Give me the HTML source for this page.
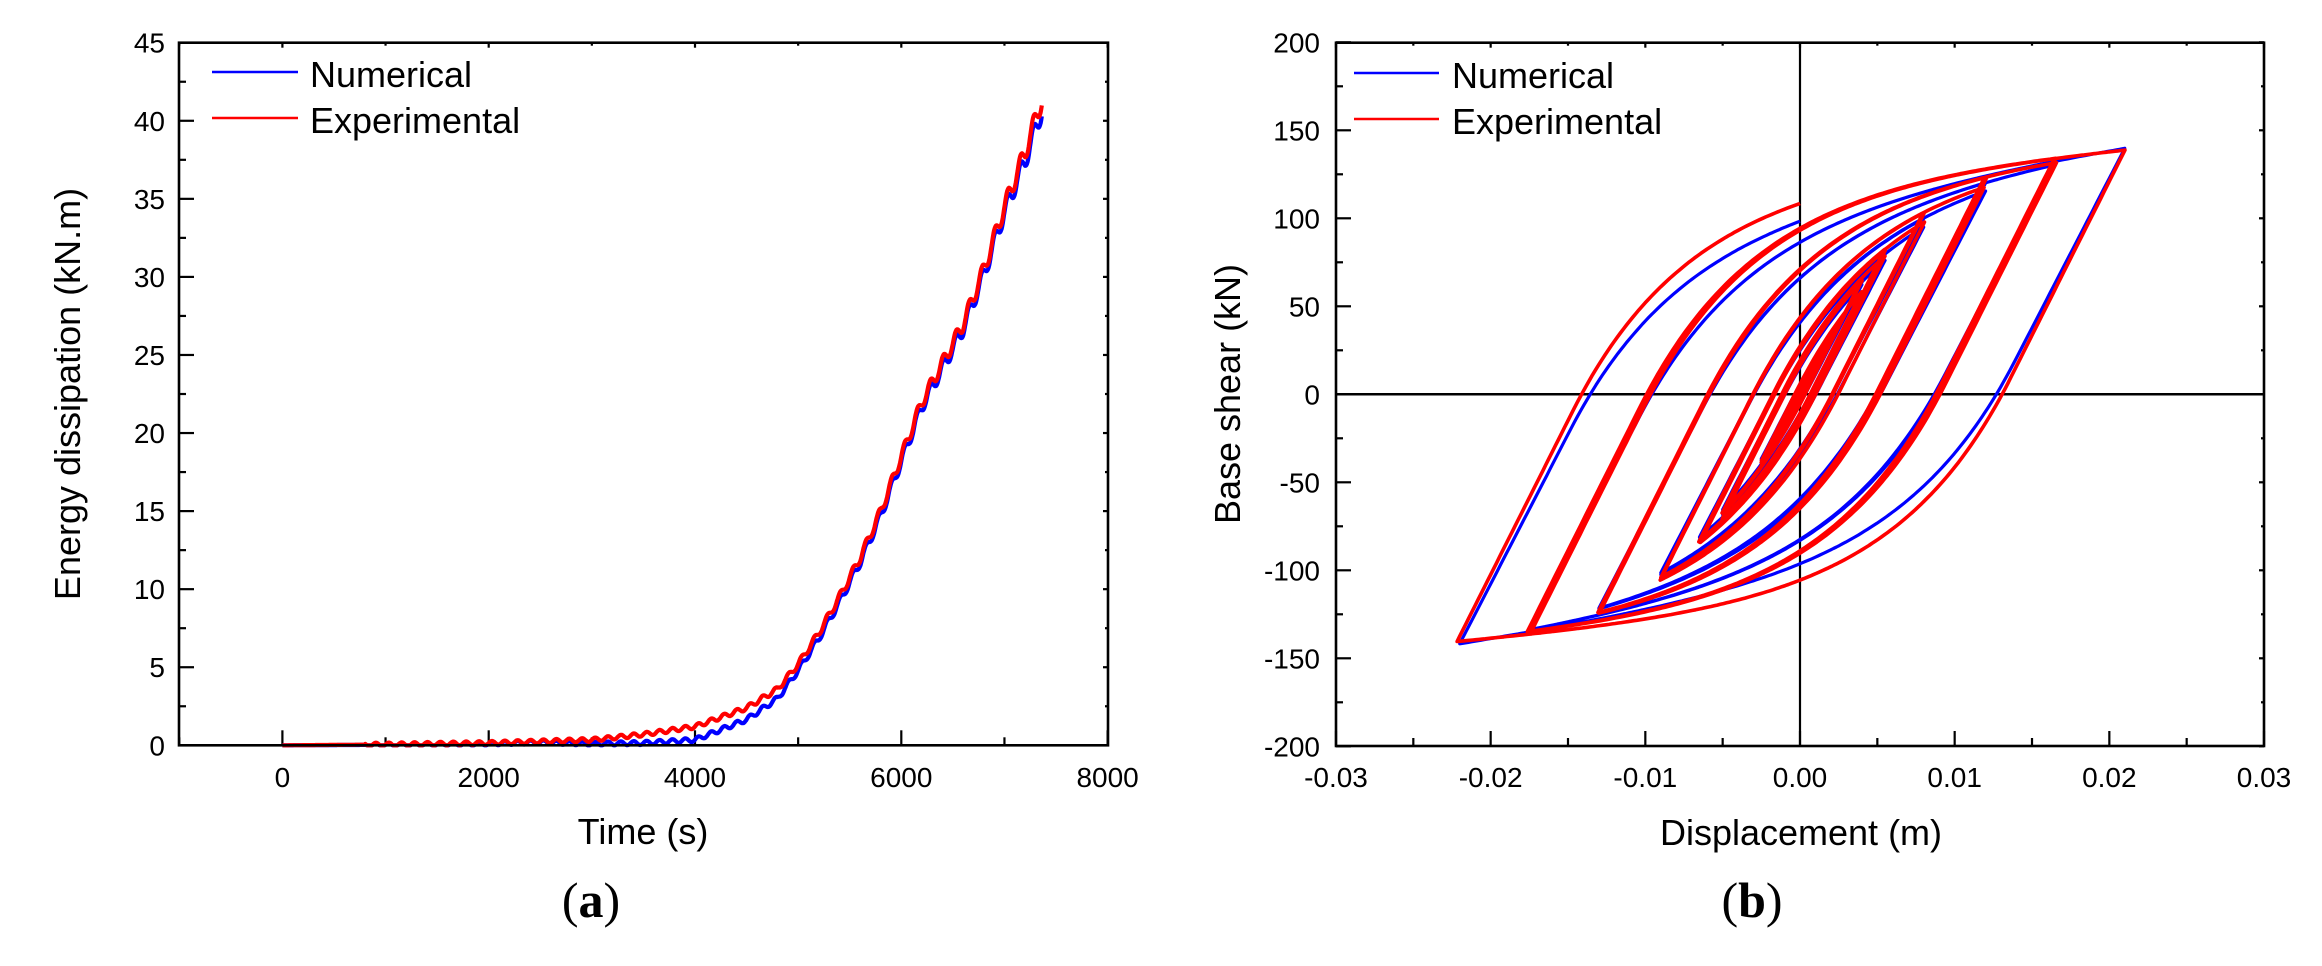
<!DOCTYPE html>
<html><head><meta charset="utf-8"><style>
html,body{margin:0;padding:0;background:#fff;}
svg{display:block;}
text{font-family:"Liberation Sans",Arial,sans-serif;fill:#000;}
.t{font-size:28px;}
.l{font-size:36px;}
.c{font-family:"Liberation Serif","Times New Roman",serif;font-size:50px;}
</style></head><body>
<svg id="s" width="2322" height="966" viewBox="0 0 2322 966" xmlns="http://www.w3.org/2000/svg">
<g id="ticks" stroke="#000" stroke-width="2.2" fill="none"></g>
<path id="eb" fill="none" stroke="#0000ff" stroke-width="4.2" stroke-linejoin="round"/>
<path id="er" fill="none" stroke="#ff0000" stroke-width="4.2" stroke-linejoin="round"/>
<line x1="1800" y1="43" x2="1800" y2="746" stroke="#000" stroke-width="2.2"/>
<line x1="1336" y1="394.3" x2="2264" y2="394.3" stroke="#000" stroke-width="2.5"/>
<path id="hb" fill="none" stroke="#0000ff" stroke-width="3.2" stroke-linejoin="round"/>
<path id="hr" fill="none" stroke="#ff0000" stroke-width="3.6" stroke-linejoin="round"/>
<rect x="179" y="42.7" width="929" height="702.6" fill="none" stroke="#000" stroke-width="2.6"/>
<rect x="1336" y="42.7" width="928" height="703.3" fill="none" stroke="#000" stroke-width="2.6"/>
<line x1="212" y1="72" x2="298" y2="72" stroke="#0000ff" stroke-width="2.6"/>
<line x1="212" y1="118" x2="298" y2="118" stroke="#ff0000" stroke-width="2.6"/>
<text class="l" x="310" y="87">Numerical</text>
<text class="l" x="310" y="133">Experimental</text>
<line x1="1354" y1="73" x2="1439" y2="73" stroke="#0000ff" stroke-width="2.6"/>
<line x1="1354" y1="119" x2="1439" y2="119" stroke="#ff0000" stroke-width="2.6"/>
<text class="l" x="1452" y="88">Numerical</text>
<text class="l" x="1452" y="134">Experimental</text>
<g id="labels"></g>
<text class="l" x="643" y="844" text-anchor="middle">Time (s)</text>
<text class="l" x="1801" y="845" text-anchor="middle">Displacement (m)</text>
<text class="l" transform="translate(80,394) rotate(-90)" text-anchor="middle">Energy dissipation (kN.m)</text>
<text class="l" transform="translate(1240,394) rotate(-90)" text-anchor="middle">Base shear (kN)</text>
<text class="c" x="591" y="917" text-anchor="middle">(<tspan font-weight="bold">a</tspan>)</text>
<text class="c" x="1752" y="917" text-anchor="middle">(<tspan font-weight="bold">b</tspan>)</text>
</svg>
<script>
(function(){
var NS="http://www.w3.org/2000/svg";
var tg=document.getElementById('ticks'), lg=document.getElementById('labels');
function ln(x1,y1,x2,y2){var e=document.createElementNS(NS,'line');e.setAttribute('x1',x1);e.setAttribute('y1',y1);e.setAttribute('x2',x2);e.setAttribute('y2',y2);tg.appendChild(e);}
function tx(s,x,y,a){var e=document.createElementNS(NS,'text');e.setAttribute('class','t');e.setAttribute('x',x);e.setAttribute('y',y);e.setAttribute('text-anchor',a);e.textContent=s;lg.appendChild(e);}
var L0=179,R0=1108,T=42.7,B=745.3;
function lx(t){return 282.4+t*0.10315;}
function ly(v){return 745.3-v*15.613;}
for(var t=-1000;t<=8000;t+=1000){var x=lx(t);var maj=(t%2000===0);
 ln(x,B,x,B-(maj?15:8)); ln(x,T,x,T+(maj?5:3));
 if(maj) tx(String(t),x,787,'middle');}
for(var v=0;v<=45;v+=2.5){var y=ly(v);var maj=(v%5===0);
 ln(L0,y,L0+(maj?15:7),y); ln(R0,y,R0-(maj?5:3),y);
 if(maj) tx(String(v),165,y+10,'end');}
function hx(d){return 1800+d*15467;}
function hy(f){return 394.3-f*1.76;}
for(var i=-6;i<=6;i++){var d=i*0.005,x=hx(d);var maj=(i%2===0);
 ln(x,746,x,746-(maj?15:8)); ln(x,42.7,x,42.7+(maj?5:3));
 if(maj) tx((d<0?'-':'')+Math.abs(d).toFixed(2),x,787,'middle');}
for(var f=-200;f<=200;f+=25){var y=hy(f);var maj=(f%50===0);
 ln(1336,y,1336+(maj?15:7),y); ln(2264,y,2264-(maj?5:3),y);
 if(maj) tx(String(f),1320,y+10,'end');}
var K=[[0,0],[1000,0.05],[2000,0.15],[3000,0.35],[3500,0.7],[4000,1.2],[4500,2.4],[4800,3.6],[5000,5.2],[5200,7.2],[5400,9.5],[5600,12],[5800,15],[6000,18.5],[6200,22],[6400,24.5],[6600,27],[6800,30.5],[7000,34.5],[7200,38],[7364,41.4]];
var D=[[0,0],[2500,0.05],[3000,0.25],[3500,0.55],[4000,0.85],[4500,0.75],[4800,0.6],[5000,0.4],[5500,0.3],[6000,0.3],[7000,0.35],[7364,0.7]];
function interp(A,t){for(var i=1;i<A.length;i++){if(t<=A[i][0]){var a=A[i-1],b=A[i];return a[1]+(b[1]-a[1])*(t-a[0])/(b[0]-a[0]);}}return A[A.length-1][1];}
var pr='',pb='';
for(var t=0;t<=7364;t+=6){var e=interp(K,t);var amp=(t<800?0:0.12+0.012*e);
 var r=e+amp*Math.sin(2*Math.PI*t/125);
 var b=Math.max(0,r-interp(D,t));r=Math.max(0,r);
 pr+=(t?'L':'M')+lx(t).toFixed(1)+' '+ly(r).toFixed(1);
 pb+=(t?'L':'M')+lx(t).toFixed(1)+' '+ly(b).toFixed(1);}
document.getElementById('er').setAttribute('d',pr);
document.getElementById('eb').setAttribute('d',pb);
var amps=[[0.002,-0.0025],[0.004,-0.005],[0.0055,-0.0065],[0.008,-0.009],[0.012,-0.013],[0.0165,-0.0175],[0.021,-0.022]];
var reps=[3,3,3,3,3,3,1];
var hist=[0];
amps.forEach(function(a,i){for(var r=0;r<reps[i];r++){hist.push(a[0]);hist.push(a[1]);}});
hist.push(0);
function sim(k,al,zm,jit){var x=0,z=0,p;var step=0.00002;var cnt=0;
 function F(){return al*k*x+(1-al)*k*z;}
 p='M'+hx(0).toFixed(1)+' '+hy(0).toFixed(1);
 for(var h=1;h<hist.length;h++){var tgt=hist[h]*(1+jit*Math.sin(h*1.7));var dir=tgt>x?1:-1;
  while((tgt-x)*dir>0){var dx=Math.min(step,Math.abs(tgt-x))*dir;
   var dz=(dx*z>0)?dx*(1-Math.abs(z)/zm):dx;
   z+=dz;x+=dx;cnt++;
   if(cnt%10===0)p+='L'+hx(x).toFixed(1)+' '+hy(F()).toFixed(1);}
  p+='L'+hx(x).toFixed(1)+' '+hy(F()).toFixed(1);}
 return p;}
document.getElementById('hb').setAttribute('d',sim(17000,0.08,0.0072,0));
document.getElementById('hr').setAttribute('d',sim(17500,0.04,0.0075,0.008));
})();
</script>
</body></html>
